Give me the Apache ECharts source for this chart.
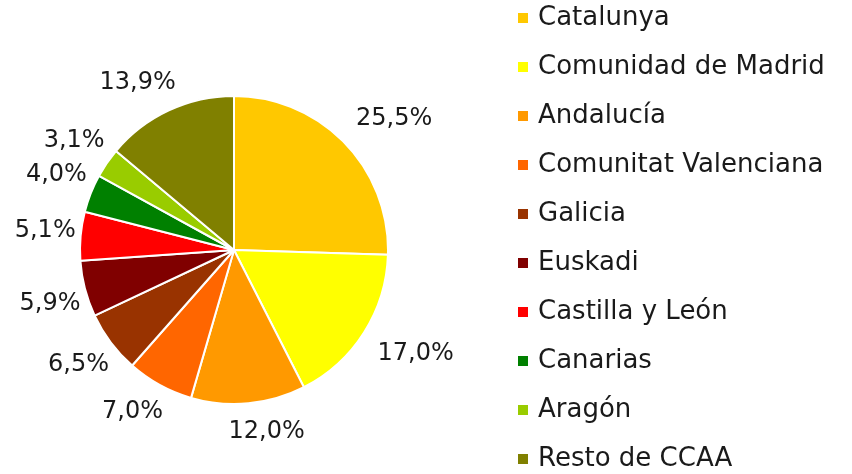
<!DOCTYPE html>
<html>
<head>
<meta charset="utf-8">
<script src="https://cdn.jsdelivr.net/npm/echarts@6/dist/echarts.min.js"></script>
<style>
  html, body { margin: 0; padding: 0; background: #fff; }
  #chart { width: 852px; height: 474px; }
</style>
</head>
<body>
<div id="chart"></div>
<script>
// Regional shares (%)
const regions = ['Catalunya', 'Comunidad de Madrid', 'Andalucía', 'Comunitat Valenciana', 'Galicia',
  'Euskadi', 'Castilla y León', 'Canarias', 'Aragón', 'Resto de CCAA'];
const shares = [25.5, 17.0, 12.0, 7.0, 6.5, 5.9, 5.1, 4.0, 3.1, 13.9];
const colors = ['#FFC800', '#FFFF00', '#FF9900', '#FF6600', '#993300',
  '#800000', '#FF0000', '#008000', '#99CC00', '#808000'];

const FONT = 'DejaVu Sans';
const LABEL_SIZE = 24;
const CX = 234, CY = 250, R = 154, LABEL_GAP = 16;

const total = shares.reduce((a, b) => a + b, 0);
// mid-angle of each slice, measured clockwise from 12 o'clock
const midAngles = [];
let acc = 0;
shares.forEach(v => {
  midAngles.push((acc + v / 2) / total * 2 * Math.PI);
  acc += v;
});

const chart = echarts.init(document.getElementById('chart'), null, { renderer: 'canvas' });
chart.setOption({
  animation: false,
  color: colors,
  textStyle: { fontFamily: FONT },
  legend: {
    orient: 'vertical',
    left: 516,
    top: 5,
    height: 469,
    padding: 0,
    itemWidth: 12,
    itemHeight: 12,
    itemGap: 23,
    icon: 'rect',
    textStyle: { fontFamily: FONT, fontSize: 26, color: '#1a1a1a', lineHeight: 24, padding: [0, 0, 0, 4] },
    data: regions
  },
  series: [{
    type: 'pie',
    center: [CX, CY],
    radius: R,
    startAngle: 90,
    clockwise: true,
    itemStyle: { borderColor: '#fff', borderWidth: 2 },
    label: {
      show: true,
      position: 'outside',
      overflow: 'none',
      fontFamily: FONT,
      fontSize: LABEL_SIZE,
      color: '#1a1a1a',
      formatter: p => p.value.toFixed(1).replace('.', ',') + '%'
    },
    labelLine: { show: false },
    labelLayout: function (params) {
      const a = midAngles[params.dataIndex];
      const sx = Math.sin(a), sy = -Math.cos(a);
      const w = params.labelRect.width;
      // placement box: a little narrower than the text, taller than the glyphs
      const bw = w * 0.82, bh = 26;
      // anchor point just outside the rim; the box's inner corner sits on it,
      // easing toward centred placement near the vertical / horizontal axes
      const px = CX + sx * (R + LABEL_GAP), py = CY + sy * (R + LABEL_GAP);
      const kx = Math.min(1, Math.abs(sx) / 0.3), ky = Math.min(1, Math.abs(sy) / 0.3);
      const bx = px + Math.sign(sx) * kx * bw / 2;
      const by = py + Math.sign(sy) * ky * bh / 2;
      // text starts at the box's left edge
      return { x: bx - bw / 2, y: by, align: 'left', verticalAlign: 'middle' };
    },
    data: regions.map((n, i) => ({ name: n, value: shares[i] }))
  }]
});
</script>
</body>
</html>
